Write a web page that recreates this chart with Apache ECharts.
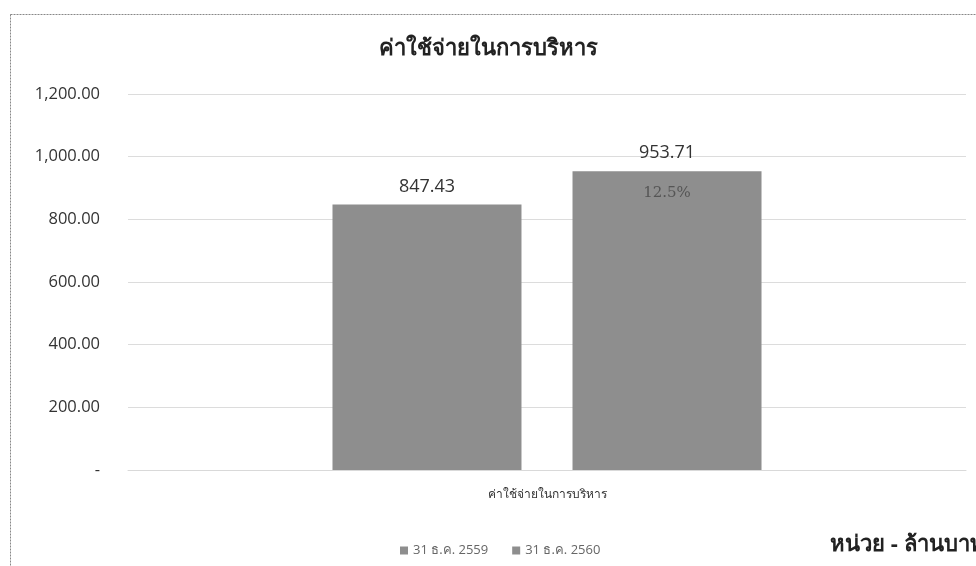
<!DOCTYPE html>
<html><head><meta charset="utf-8">
<script src="https://cdn.jsdelivr.net/npm/echarts@6/dist/echarts.min.js"></script>
<style>html,body{margin:0;padding:0;background:#fff}#c{width:976px;height:566px}</style>
</head><body><div id="c"></div>
<script>
const categories = ['ค่าใช้จ่ายในการบริหาร'];
const seriesNames = ['31 ธ.ค. 2559', '31 ธ.ค. 2560'];
const values2559 = [847.43];
const values2560 = [953.71];
const growth2560 = ['12.5%'];
const yTicks = [0, 200, 400, 600, 800, 1000, 1200];

const fmt = v => v === 0 ? '-' : v.toLocaleString('en-US', {minimumFractionDigits: 2, maximumFractionDigits: 2});
const FONT = '"Open Sans", "Noto Sans", "DejaVu Sans", sans-serif';

const chart = echarts.init(document.getElementById('c'));
chart.setOption({
  animation: false,
  backgroundColor: '#fff',
  title: {
    text: 'ค่าใช้จ่ายในการบริหาร', left: 'center', top: 33,
    textStyle: {fontSize: 22, fontWeight: 'bold', color: '#222', fontFamily: FONT}
  },
  grid: {left: 128, right: 10, top: 94, bottom: 96},
  legend: {
    data: seriesNames, left: 395, top: 539, itemWidth: 8, itemHeight: 8, itemGap: 24,
    icon: 'rect',
    textStyle: {fontSize: 13, color: '#666', fontFamily: FONT}
  },
  xAxis: {
    type: 'category', data: categories,
    axisLine: {lineStyle: {color: '#d9d9d9'}}, axisTick: {show: false},
    axisLabel: {fontSize: 12, color: '#333', margin: 19, fontFamily: FONT}
  },
  yAxis: {
    type: 'value', min: yTicks[0], max: yTicks[yTicks.length - 1], interval: 200,
    axisLine: {show: false}, axisTick: {show: false},
    splitLine: {lineStyle: {color: '#dcdcdc'}},
    axisLabel: {fontSize: 16.5, color: '#333', margin: 28, fontFamily: FONT, formatter: fmt}
  },
  series: [
    {
      name: seriesNames[0], type: 'bar', data: values2559, barWidth: 189, barGap: '27%',
      itemStyle: {color: '#8e8e8e'},
      label: {show: true, position: 'top', distance: 9, fontSize: 18, color: '#333', fontFamily: FONT,
        formatter: p => fmt(p.value)}
    },
    {
      name: seriesNames[1], type: 'bar', data: values2560, barWidth: 189,
      itemStyle: {color: '#8e8e8e'},
      label: {show: true, position: 'insideTop', distance: 0, offset: [0, -30],
        formatter: p => '{v|' + fmt(p.value) + '}\n{g|' + growth2560[p.dataIndex] + '}',
        rich: {
          v: {fontSize: 18, color: '#333', fontFamily: FONT, lineHeight: 24},
          g: {fontSize: 15, color: '#555', fontFamily: '"DejaVu Serif", "Liberation Serif", serif', lineHeight: 26, padding: [30, 0, 0, 0]}
        }
      }
    }
  ],
  graphic: [
    {type: 'rect', left: 8, top: 12, shape: {width: 980, height: 560},
      style: {fill: 'none', stroke: '#888', lineWidth: 1, lineDash: [2, 1]}},
    {type: 'text', left: 830, top: 534,
      style: {text: 'หน่วย - ล้านบาท', fontSize: 22, fontWeight: 'bold', fill: '#222', fontFamily: FONT}}
  ]
});
</script></body></html>
